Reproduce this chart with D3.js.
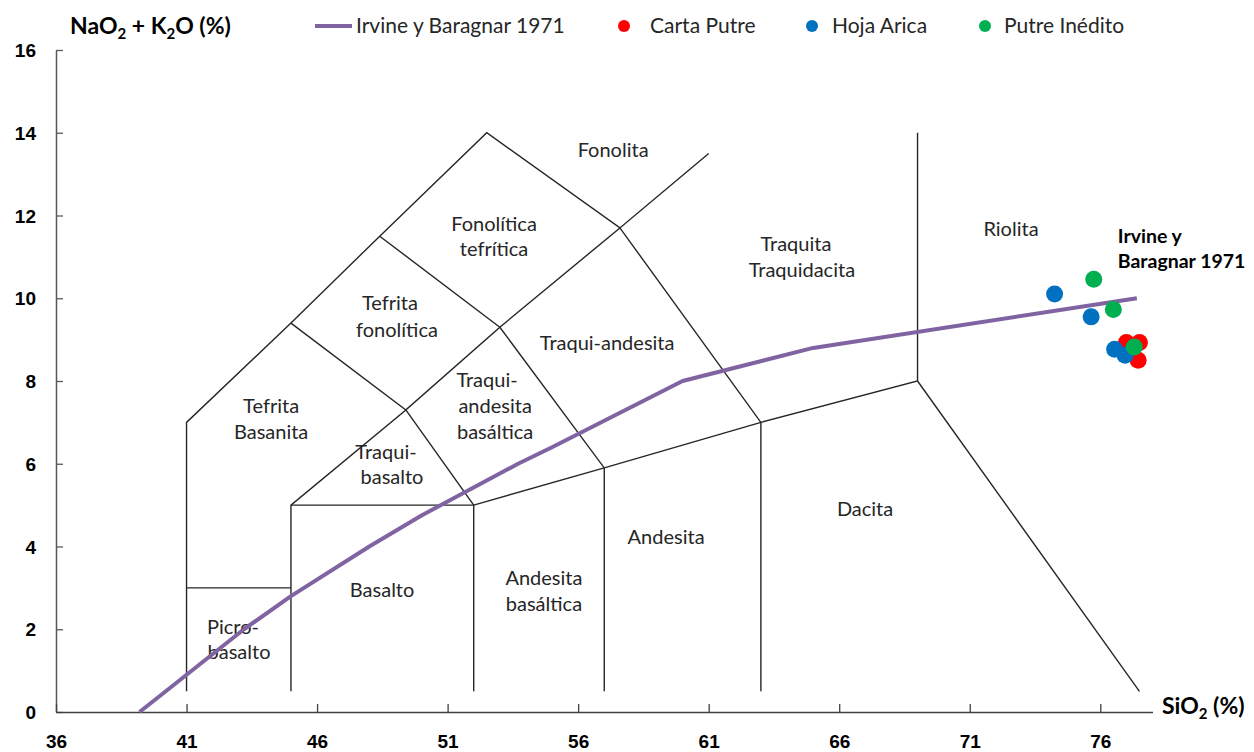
<!DOCTYPE html>
<html>
<head>
<meta charset="utf-8">
<script src="https://cdn.jsdelivr.net/npm/d3@7"></script>
<style>
  body { margin: 0; background: #fff; }
  svg { font-family: Lato, "Open Sans", sans-serif; }
  .tick-label { font-weight: bold; font-size: 19px; fill: #000; }
  .field { font-size: 20px; fill: #262626; }
  .legend-text { font-size: 21px; fill: #262626; }
</style>
</head>
<body>
<svg id="chart"></svg>
<script>
// x ticks and y ticks
const xTicks = [36, 41, 46, 51, 56, 61, 66, 71, 76];
const yTicks = [0, 2, 4, 6, 8, 10, 12, 14, 16];

// Irvine y Baragnar 1971 alkaline / subalkaline divide
const irvineX = [39.2, 40, 43.2, 45, 48, 50, 53.7, 55, 60, 65, 77.4];
const irvineY = [0, 0.4, 2, 2.8, 4, 4.75, 6, 6.4, 8, 8.8, 10];

// samples
const cartaPutreX = [77.0, 77.5, 77.45, 77.15];
const cartaPutreY = [8.93, 8.93, 8.5, 8.68];
const hojaAricaX = [74.25, 75.65, 76.55, 76.95];
const hojaAricaY = [10.1, 9.55, 8.77, 8.62];
const putreInX = [75.75, 76.5, 77.3];
const putreInY = [10.46, 9.73, 8.82];

// TAS field boundaries (SiO2, Na2O+K2O)
const boundaries = [
  [[41, 0.5], [41, 7], [45, 9.4], [48.4, 11.5], [52.5, 14], [57.6, 11.7], [61, 13.5]],
  [[41, 3], [45, 3]],
  [[45, 0.5], [45, 5], [49.4, 7.3], [45, 9.4]],
  [[45, 5], [52, 5], [52, 0.5]],
  [[52, 5], [49.4, 7.3], [53, 9.3], [48.4, 11.5]],
  [[53, 9.3], [57.6, 11.7], [63, 7], [63, 0.5]],
  [[52, 5], [57, 5.9], [63, 7], [69, 8], [69, 14]],
  [[57, 0.5], [57, 5.9], [53, 9.3]],
  [[69, 8], [77.5, 0.5]]
];

// field names, one line each, with the data position of the line
const fieldNames = [
  ["Fonolita", 57.34, 13.58],
  ["Fonolítica", 52.78, 11.79], ["tefrítica", 52.78, 11.19],
  ["Tefrita", 48.79, 9.88], ["fonolítica", 49.06, 9.23],
  ["Tefrita", 44.24, 7.4], ["Basanita", 44.24, 6.77],
  ["Traqui-", 48.64, 6.28], ["basalto", 48.87, 5.68],
  ["Traqui-", 52.51, 8.02], ["andesita", 52.82, 7.4], ["basáltica", 52.82, 6.77],
  ["Traqui-andesita", 57.11, 8.92],
  ["Traquita", 64.34, 11.31], ["Traquidacita", 64.57, 10.68],
  ["Riolita", 72.58, 11.67],
  ["Dacita", 66.99, 4.91],
  ["Andesita", 59.37, 4.23],
  ["Andesita", 54.69, 3.24], ["basáltica", 54.69, 2.61],
  ["Basalto", 48.49, 2.95],
  ["Picro-", 42.78, 2.05], ["basalto", 43.01, 1.45]
];

const width = 1254, height = 752;
const svg = d3.select("#chart").attr("width", width).attr("height", height);

const x = d3.scaleLinear().domain([36, 78]).range([56, 1152.5]);
const y = d3.scaleLinear().domain([0, 16]).range([712, 50]);

// axes
const xAxis = d3.axisBottom(x).tickValues(xTicks).tickSize(0).tickFormat(d3.format("d"));
const yAxis = d3.axisLeft(y).tickValues(yTicks).tickSize(0).tickFormat(d3.format("d"));

const yG = svg.append("g").attr("transform", `translate(${x(36)},0)`).call(yAxis);
yG.select(".domain").attr("stroke", "#595959").attr("stroke-width", 1.5);
yG.selectAll(".tick text").attr("class", "tick-label").attr("x", -20).attr("dy", "0.35em");
yG.selectAll(".tick").append("line").attr("x2", 7).attr("stroke", "#595959").attr("stroke-width", 1.3);

const xG = svg.append("g").attr("transform", `translate(0,${y(0)})`).call(xAxis);
xG.select(".domain").attr("stroke", "#404040").attr("stroke-width", 1.5);
xG.selectAll(".tick text").attr("class", "tick-label").attr("y", 23).attr("dy", "0.71em");
xG.selectAll(".tick").append("line").attr("y2", -8).attr("stroke", "#404040").attr("stroke-width", 1.3);

// field boundaries
const line = d3.line().x(d => x(d[0])).y(d => y(d[1]));
svg.append("g").selectAll("path")
  .data(boundaries)
  .join("path")
  .attr("d", line)
  .attr("fill", "none")
  .attr("stroke", "#262626")
  .attr("stroke-width", 1.4);

svg.append("g").selectAll("text")
  .data(fieldNames)
  .join("text")
  .attr("class", "field")
  .attr("x", d => x(d[1]))
  .attr("y", d => y(d[2]))
  .attr("text-anchor", "middle")
  .attr("dy", "0.35em")
  .text(d => d[0]);

// Irvine y Baragnar curve
const irvine = irvineX.map((v, i) => [v, irvineY[i]]);
svg.append("path")
  .datum(irvine)
  .attr("d", line)
  .attr("fill", "none")
  .attr("stroke", "#8064A2")
  .attr("stroke-width", 4)
  .attr("stroke-linejoin", "round");

const curveLabel = svg.append("text")
  .attr("x", x(76.67)).attr("y", y(11.5))
  .attr("font-weight", "bold").attr("font-size", 19.5).attr("fill", "#000");
curveLabel.append("tspan").attr("x", x(76.67)).attr("dy", "0.35em").text("Irvine y");
curveLabel.append("tspan").attr("x", x(76.67)).attr("dy", 25).text("Baragnar 1971");

// samples
const series = [
  { name: "Carta Putre", color: "#FF0000", xs: cartaPutreX, ys: cartaPutreY },
  { name: "Hoja Arica", color: "#0070C0", xs: hojaAricaX, ys: hojaAricaY },
  { name: "Putre Inédito", color: "#00B050", xs: putreInX, ys: putreInY }
];
series.forEach(s => {
  svg.append("g").selectAll("circle")
    .data(s.xs.map((v, i) => [v, s.ys[i]]))
    .join("circle")
    .attr("cx", d => x(d[0]))
    .attr("cy", d => y(d[1]))
    .attr("r", 8.5)
    .attr("fill", s.color);
});

// axis titles
const yTitle = svg.append("text").attr("x", 70).attr("y", 34)
  .attr("font-weight", "bold").attr("font-size", 23).attr("fill", "#000");
yTitle.append("tspan").text("NaO");
yTitle.append("tspan").attr("font-size", 15).attr("dy", 5).text("2");
yTitle.append("tspan").attr("dy", -5).text(" + K");
yTitle.append("tspan").attr("font-size", 15).attr("dy", 5).text("2");
yTitle.append("tspan").attr("dy", -5).text("O (%)");

const xTitle = svg.append("text").attr("x", 1162).attr("y", 714)
  .attr("font-weight", "bold").attr("font-size", 23).attr("fill", "#000");
xTitle.append("tspan").text("SiO");
xTitle.append("tspan").attr("font-size", 15).attr("dy", 5).text("2");
xTitle.append("tspan").attr("dy", -5).text(" (%)");

// legend
const legend = svg.append("g").attr("transform", "translate(0,26)");
legend.append("line").attr("x1", 315).attr("x2", 352)
  .attr("stroke", "#8064A2").attr("stroke-width", 4);
legend.append("text").attr("class", "legend-text").attr("x", 356).attr("dy", "0.35em")
  .text("Irvine y Baragnar 1971");
const legendDot = [624, 812, 985];
const legendText = [650, 832, 1004];
series.forEach((s, i) => {
  legend.append("circle").attr("cx", legendDot[i]).attr("r", 6).attr("fill", s.color);
  legend.append("text").attr("class", "legend-text").attr("x", legendText[i])
    .attr("dy", "0.35em").text(s.name);
});
</script>
</body>
</html>
